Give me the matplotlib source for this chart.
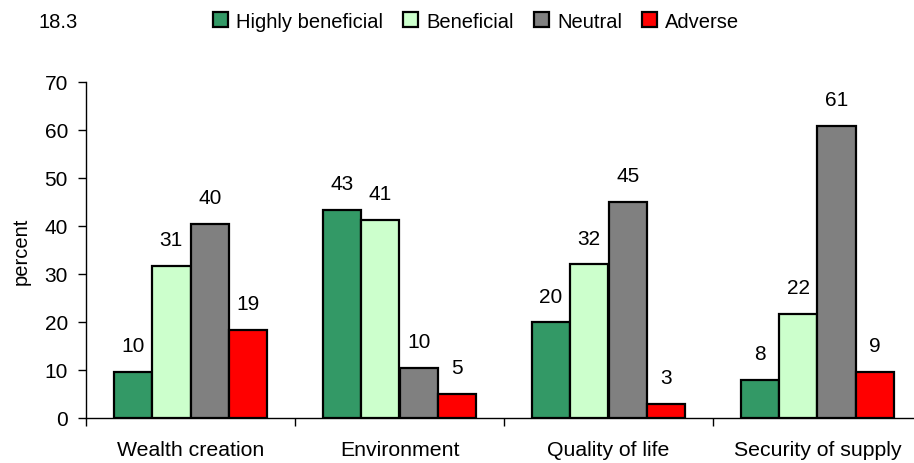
import matplotlib.pyplot as plt
import numpy as np

plt.rcParams['font.family'] = ['Liberation Sans', 'DejaVu Sans']

categories = ['Wealth creation', 'Environment', 'Quality of life', 'Security of supply']
series = ['Highly beneficial', 'Beneficial', 'Neutral', 'Adverse']
colors = ['#339966', '#CCFFCC', '#808080', '#FF0000']
values = [
    [9.65, 43.3, 19.9, 7.9],   # Highly beneficial
    [31.6, 41.2, 32.0, 21.7],  # Beneficial
    [40.4, 10.4, 45.0, 60.8],  # Neutral
    [18.3, 5.0, 2.9, 9.65],    # Adverse
]
labels = [
    [10, 43, 20, 8],
    [31, 41, 32, 22],
    [40, 10, 45, 61],
    [19, 5, 3, 9],
]

fs = 14.5
fig = plt.figure(figsize=(9.14, 4.64), dpi=100)
ax = fig.add_axes([86/914, 45/464, 836/914, 336/464])

x = np.arange(len(categories))
w = 0.184
for i in range(len(series)):
    pos = x + (i - 1.5)*w
    ax.bar(pos, values[i], width=w, color=colors[i], edgecolor='black', linewidth=1.6, label=series[i], zorder=3)
    for j in range(len(categories)):
        ax.annotate('%d' % labels[i][j], (pos[j], values[i][j]), xytext=(0, 19), textcoords='offset points',
                    ha='center', va='center', fontsize=15)

ax.set_xlim(-0.5, 3.5)
ax.set_ylim(0, 70)
ax.set_yticks(range(0, 71, 10))
ax.set_xticks(x)
ax.set_xticklabels(categories, fontsize=15.3)
ax.set_xticks(np.arange(-0.5, 3.5, 1), minor=True)
ax.tick_params(axis='x', which='major', length=0, pad=16)
ax.tick_params(axis='x', which='minor', length=6, width=1, direction='out')
ax.tick_params(axis='y', length=6, width=1, labelsize=15, pad=7)
for s in ['top', 'right']:
    ax.spines[s].set_visible(False)
ax.spines['left'].set_linewidth(1)
ax.spines['bottom'].set_linewidth(1)
ax.set_ylabel('percent', fontsize=fs, labelpad=10)

fig.text(38/914, 1 - 22/464, '18.3', fontsize=fs, va='center', ha='left')
fig.legend(loc='center', bbox_to_anchor=(476/914, 1 - 22/464), ncol=4, frameon=False, fontsize=fs,
           handlelength=0.75, handleheight=0.75, handletextpad=0.4, columnspacing=1.0)

plt.savefig('out.png', dpi=100)
